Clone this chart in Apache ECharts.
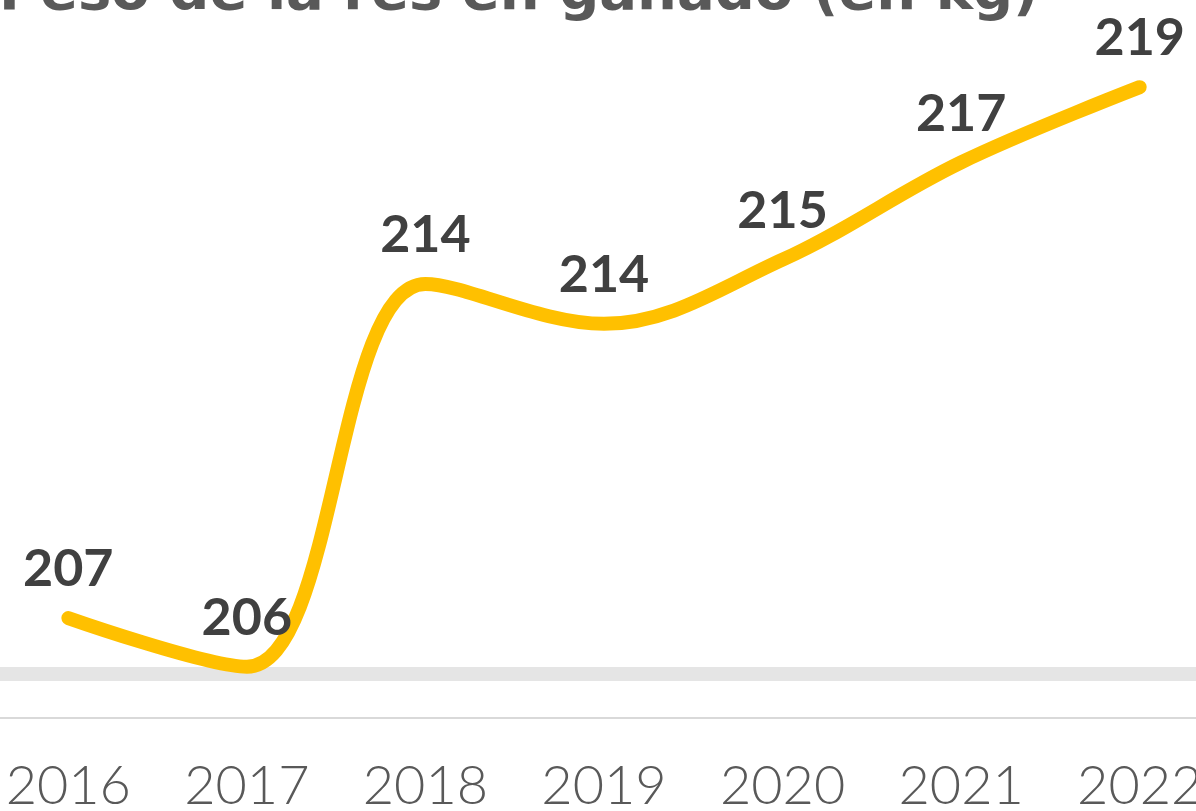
<!DOCTYPE html>
<html>
<head>
<meta charset="utf-8">
<script src="https://cdn.jsdelivr.net/npm/echarts@6/dist/echarts.min.js"></script>
<style>
  html, body { margin: 0; padding: 0; background: #fff; }
  #chart { width: 1196px; height: 811px; }
</style>
</head>
<body>
<div id="chart"></div>
<script>
const titleText = 'Peso de la res en ganado (en kg)'
const years = ['2016', '2017', '2018', '2019', '2020', '2021', '2022']
const pesoKg = [206.9, 205.8, 214.45, 213.55, 215.0, 217.2, 218.9]
const bandValue = 205.63

const myChart = echarts.init(document.getElementById('chart'))
myChart.setOption({
  animation: false,
  title: {
    text: titleText,
    left: -6,
    top: -40,
    textStyle: { fontFamily: 'DejaVu Sans', fontWeight: 'bold', fontSize: 56, lineHeight: 58, color: '#595959' },
  },
  grid: { left: -21, right: -33, top: 0, bottom: 93, outerBoundsMode: 'none', containLabel: false },
  xAxis: {
    type: 'category',
    data: years,
    boundaryGap: true,
    axisLine: { show: true, lineStyle: { color: '#d9d9d9', width: 2 } },
    axisTick: { show: false },
    axisLabel: { fontFamily: 'Lato', fontWeight: 300, fontSize: 54, color: '#595959', margin: 42 },
  },
  yAxis: {
    type: 'value',
    min: 204.64,
    max: 220.87,
    show: false,
    splitLine: { show: false },
  },
  series: [
    {
      type: 'line',
      data: pesoKg,
      smooth: 0.36,
      symbol: 'circle',
      symbolSize: 1,
      showSymbol: true,
      itemStyle: { color: '#FFC000' },
      lineStyle: { color: '#FFC000', width: 14, cap: 'round', join: 'round' },
      label: {
        show: true,
        position: 'top',
        distance: 22,
        fontFamily: 'Lato',
        fontWeight: 'bold',
        fontSize: 52,
        lineHeight: 52,
        color: '#404040',
        formatter: (p) => Math.round(p.value),
      },
      z: 3,
      markLine: {
        silent: true,
        z: 1,
        symbol: 'none',
        label: { show: false },
        lineStyle: { color: '#e5e5e5', width: 14, type: 'solid' },
        data: [{ yAxis: bandValue }],
      },
    },
  ],
})
</script>
</body>
</html>
